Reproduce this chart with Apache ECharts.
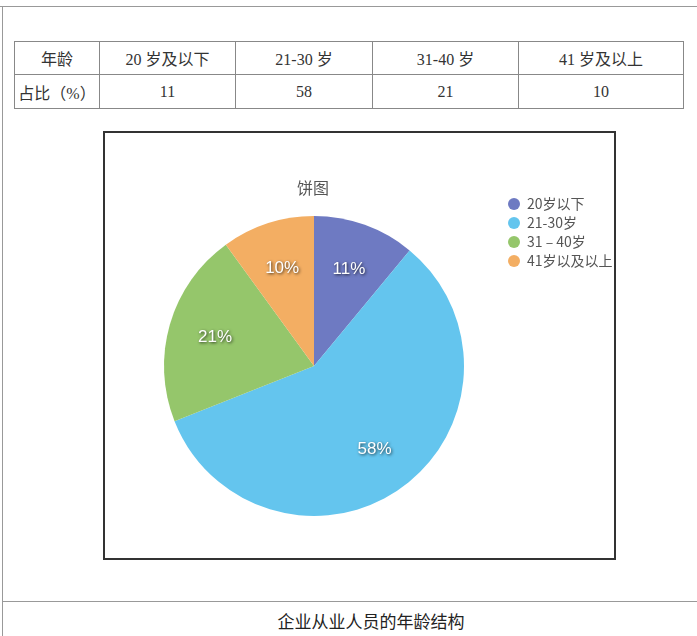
<!DOCTYPE html>
<html>
<head>
<meta charset="utf-8">
<script src="https://cdn.jsdelivr.net/npm/echarts@6/dist/echarts.min.js"></script>
<style>
  html, body { margin: 0; padding: 0; background: #fff; }
  body { width: 697px; height: 636px; position: relative; overflow: hidden; }
  .hline { position: absolute; height: 0; border-top: 1px solid #999; }
  .vline { position: absolute; width: 0; border-left: 1px solid #999; }
  #tbl { position: absolute; left: 14px; top: 41px; border-collapse: collapse; table-layout: fixed;
         font-family: "Liberation Serif", "Noto Sans CJK SC", serif; font-size: 16px; color: #333; }
  #tbl td { border: 1px solid #888; text-align: center; padding: 0; }
  #tbl tr.r1 td { height: 32px; }
  #tbl tr.r2 td { height: 33px; }
  #box { position: absolute; left: 103px; top: 131px; width: 509px; height: 425px; border: 2px solid #333; }
  #chart { width: 509px; height: 425px; }
  #caption { position: absolute; left: 171px; width: 400px; top: 608px; text-align: center;
             font-family: "Noto Sans CJK SC", sans-serif; font-size: 17px; color: #222; }
</style>
</head>
<body>
<div class="hline" style="left:0;top:6px;width:697px;"></div>
<div class="vline" style="left:2px;top:6px;height:630px;"></div>
<div class="hline" style="left:2px;top:601px;width:695px;"></div>
<table id="tbl"></table>
<div id="box"><div id="chart"></div></div>
<div id="caption">企业从业人员的年龄结构</div>
<script>
// ---- data ----
const tableHeads = ['年龄', '20 岁及以下', '21-30 岁', '31-40 岁', '41 岁及以上'];
const tableRowLabel = '占比（%）';
const tableValues = [11, 58, 21, 10];
const categories = ['20岁以下', '21-30岁', '31 – 40岁', '41岁以及以上'];
const values = [11, 58, 21, 10];
const colors = ['#6E7AC2', '#64C5EE', '#95C66B', '#F3AE63'];
const chartTitle = '饼图';

// ---- table ----
const colWidths = [85, 136, 137, 146, 165];
const tbl = document.getElementById('tbl');
const cg = document.createElement('colgroup');
colWidths.forEach(w => { const c = document.createElement('col'); c.style.width = w + 'px'; cg.appendChild(c); });
tbl.appendChild(cg);
const tr1 = document.createElement('tr'); tr1.className = 'r1';
tableHeads.forEach(h => { const td = document.createElement('td'); td.textContent = h; tr1.appendChild(td); });
tbl.appendChild(tr1);
const tr2 = document.createElement('tr'); tr2.className = 'r2';
[tableRowLabel].concat(tableValues).forEach(v => { const td = document.createElement('td'); td.textContent = v; tr2.appendChild(td); });
tbl.appendChild(tr2);

// ---- chart ----
const chart = echarts.init(document.getElementById('chart'), null, { renderer: 'canvas' });
const pieData = categories.map((n, i) => ({ name: n, value: values[i], itemStyle: { color: colors[i] } }));
const labelData = categories.map((n, i) => ({ name: n, value: values[i] }));
chart.setOption({
  animation: false,
  backgroundColor: '#fff',
  graphic: [{
    type: 'text', x: 208, y: 55,
    style: { text: chartTitle, align: 'center', verticalAlign: 'middle',
             font: '16px "Noto Sans CJK SC", sans-serif', fill: '#555' }
  }],
  legend: {
    orient: 'vertical', left: 398, top: 59,
    icon: 'circle', itemWidth: 12, itemHeight: 12, itemGap: 5,
    data: categories,
    textStyle: { fontSize: 14, color: '#555', fontFamily: '"Noto Sans CJK SC", sans-serif', padding: [0, 0, 0, 2], lineHeight: 13 }
  },
  series: [
    {
      type: 'pie', center: [209, 233], radius: 150, startAngle: 90, clockwise: true,
      data: pieData, label: { show: false }, labelLine: { show: false },
      itemStyle: { borderWidth: 0 }, emphasis: { disabled: true }
    },
    {
      type: 'pie', center: [209, 233], radius: [50, 150], startAngle: 90, clockwise: true,
      silent: true, data: labelData,
      itemStyle: { color: 'rgba(0,0,0,0)', borderWidth: 0 },
      emphasis: { disabled: true }, labelLine: { show: false },
      label: {
        show: true, position: 'inside', formatter: '{c}%',
        color: '#fff', fontSize: 17, fontFamily: '"Liberation Sans", "Noto Sans", sans-serif',
        textBorderWidth: 0,
        textShadowColor: 'rgba(0,0,0,0.75)', textShadowBlur: 3, textShadowOffsetX: 1, textShadowOffsetY: 1
      }
    }
  ]
});
</script>
</body>
</html>
